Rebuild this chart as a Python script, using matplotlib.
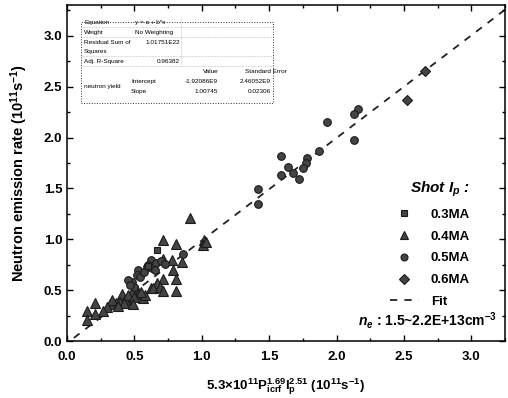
import matplotlib
matplotlib.use("Agg")
import matplotlib.pyplot as plt
from matplotlib.lines import Line2D
from matplotlib.ticker import MultipleLocator, FormatStrFormatter
import numpy as np

plt.rcParams['font.family'] = ['Liberation Sans', 'DejaVu Sans']
plt.rcParams['font.weight'] = 'bold'
plt.rcParams['mathtext.fontset'] = 'custom'
plt.rcParams['mathtext.rm'] = 'Liberation Sans:bold'
plt.rcParams['mathtext.it'] = 'Liberation Sans:bold:italic'
plt.rcParams['mathtext.bf'] = 'Liberation Sans:bold'
plt.rcParams['mathtext.default'] = 'rm'

# Scaling-law prediction (x) vs measured neutron rate (y), units 1e11 s^-1
ma03_x = [0.67, 0.60]
ma03_y = [0.89, 0.74]

ma04_x = [0.91, 1.02, 1.01, 1.03, 0.71, 0.81, 0.71, 0.78, 0.85, 0.79, 0.71, 0.81,
          0.67, 0.62, 0.64, 0.69, 0.71, 0.81, 0.52, 0.53, 0.48, 0.41, 0.47, 0.43,
          0.39, 0.36, 0.32, 0.33, 0.30, 0.27, 0.21, 0.15, 0.21, 0.15, 0.45, 0.42,
          0.56, 0.50, 0.58, 0.38, 0.55, 0.49]
ma04_y = [1.21, 0.99, 0.94, 0.97, 0.99, 0.95, 0.81, 0.80, 0.78, 0.70, 0.61, 0.61,
          0.57, 0.52, 0.52, 0.53, 0.49, 0.49, 0.50, 0.46, 0.48, 0.46, 0.40, 0.40,
          0.38, 0.37, 0.36, 0.40, 0.33, 0.30, 0.37, 0.30, 0.27, 0.21, 0.45, 0.37,
          0.42, 0.43, 0.45, 0.34, 0.48, 0.36]

ma05_x = [2.16, 2.13, 1.93, 2.13, 1.87, 1.78, 1.77, 1.75, 1.64, 1.68, 1.72, 1.59,
          1.59, 1.42, 1.42, 0.86, 0.62, 0.59, 0.53, 0.52, 0.48, 0.45, 0.50, 0.60,
          0.63, 0.54, 0.66, 0.70, 0.57, 0.47, 0.65, 0.73]
ma05_y = [2.28, 2.23, 2.15, 1.98, 1.87, 1.80, 1.75, 1.70, 1.71, 1.65, 1.59, 1.82,
          1.63, 1.49, 1.35, 0.86, 0.80, 0.73, 0.70, 0.65, 0.58, 0.60, 0.53, 0.75,
          0.72, 0.63, 0.77, 0.79, 0.68, 0.55, 0.70, 0.76]

ma06_x = [2.66, 2.52]
ma06_y = [2.65, 2.37]

fit_a = -1.92086e9 / 1e11
fit_b = 1.00745
fit_x = np.array([0.05, 3.25])

fig = plt.figure(figsize=(5.08, 3.98), dpi=100)
ax = fig.add_axes([0.132, 0.143, 0.862, 0.844])

ax.plot(fit_x, fit_a + fit_b * fit_x, ls=(0, (4, 4)), color='#222222', lw=1.3, zorder=1)

common = dict(linestyle='none', color='#444444', markeredgecolor='#1a1a1a', markeredgewidth=0.8)
ax.plot(ma04_x, ma04_y, marker='^', markersize=6.5, zorder=2, **common)
ax.plot(ma05_x, ma05_y, marker='o', markersize=5.5, zorder=3, **common)
ax.plot(ma03_x, ma03_y, marker='s', markersize=5, zorder=4, **common)
ax.plot(ma06_x, ma06_y, marker='D', markersize=5, zorder=4, **common)

ax.set_xlim(0, 3.25)
ax.set_ylim(0, 3.3)
ax.xaxis.set_major_locator(MultipleLocator(0.5))
ax.xaxis.set_minor_locator(MultipleLocator(0.25))
ax.yaxis.set_major_locator(MultipleLocator(0.5))
ax.yaxis.set_minor_locator(MultipleLocator(0.25))
ax.xaxis.set_major_formatter(FormatStrFormatter('%.1f'))
ax.yaxis.set_major_formatter(FormatStrFormatter('%.1f'))
ax.tick_params(which='both', direction='in', top=True, right=True, labelsize=9.5, width=1)
ax.tick_params(which='major', length=4)
ax.tick_params(which='minor', length=2.5)
ax.tick_params(axis='x', pad=7)
for s in ax.spines.values():
    s.set_linewidth(1.1)

ax.set_xlabel(r'5.3$\times$10$^{11}$P$_{\rm icrf}^{1.69}$I$_{\rm p}^{2.51}$ (10$^{11}$s$^{-1}$)',
              fontsize=9.5, fontweight='bold', labelpad=10)
ax.set_ylabel(r'Neutron emission rate (10$^{11}$s$^{-1}$)', fontsize=10.5,
              fontweight='bold', labelpad=10)

handles = [
    Line2D([], [], marker='s', markersize=5, **common),
    Line2D([], [], marker='^', markersize=5.5, **common),
    Line2D([], [], marker='o', markersize=5, **common),
    Line2D([], [], marker='D', markersize=5, **common),
    Line2D([], [], ls=(0, (4, 4)), color='#222222', lw=1.3),
]
labels = ['0.3MA', '0.4MA', '0.5MA', '0.6MA', 'Fit']
leg = ax.legend(handles, labels, loc='upper left', bbox_to_anchor=(0.71, 0.515),
                frameon=False, fontsize=9.5, handlelength=2.2, handletextpad=0.9,
                labelspacing=0.72, title=r'Shot $\mathit{I}_{\mathit{p}}$ :',
                title_fontsize=11)
leg.get_title().set_fontweight('bold')
leg.get_title().set_fontstyle('italic')
leg._legend_box.align = 'right'

ax.text(0.665, 0.045, r'$\mathit{n}_{\mathit{e}}$ : 1.5~2.2E+13cm$^{-3}$',
        transform=ax.transAxes, fontsize=10, fontweight='bold')

# Fit summary table
tb = dict(fontsize=4.6, fontweight='normal', transform=ax.transAxes, va='center')
x0, x1 = 0.031, 0.47
y0, y1 = 0.95, 0.71
ax.add_patch(plt.Rectangle((x0, y1), x1 - x0, y0 - y1, transform=ax.transAxes,
                           fill=False, ls=':', lw=0.7, color='#333333', zorder=5))

def px_x(p):
    return (p - 67) / 438.0

def px_y(p):
    return (341 - p) / 336.0

rows = [('Equation', 'y = a + b*x', 22), ('Weight', 'No Weighting', 32),
        ('Residual Sum of', '1.01751E22', 42), ('Squares', '', 51),
        ('Adj. R-Square', '0.96382', 61)]
for name, val, py in rows:
    ax.text(px_x(84), px_y(py), name, **tb)
    if name.startswith('Residual') or name.startswith('Adj'):
        ax.text(px_x(180), px_y(py), val, ha='right', **tb)
    else:
        ax.text(px_x(135), px_y(py), val, **tb)
ax.text(px_x(203), px_y(71), 'Value', **tb)
ax.text(px_x(245), px_y(71), 'Standard Error', **tb)
ax.text(px_x(84), px_y(86), 'neutron yield', **tb)
ax.text(px_x(131), px_y(81), 'Intercept', **tb)
ax.text(px_x(131), px_y(91), 'Slope', **tb)
ax.text(px_x(218), px_y(81), '-1.92086E9', ha='right', **tb)
ax.text(px_x(218), px_y(91), '1.00745', ha='right', **tb)
ax.text(px_x(271), px_y(81), '2.46052E9', ha='right', **tb)
ax.text(px_x(271), px_y(91), '0.02306', ha='right', **tb)
for py in (27, 37, 56, 66):
    ax.plot([x0, x1], [px_y(py)] * 2, transform=ax.transAxes, ls=':', lw=0.4,
            color='#888888', zorder=5)
ax.plot([px_x(181)] * 2, [px_y(17), px_y(66)], transform=ax.transAxes, ls=':',
        lw=0.4, color='#888888', zorder=5)

fig.savefig('out.png', dpi=100)
